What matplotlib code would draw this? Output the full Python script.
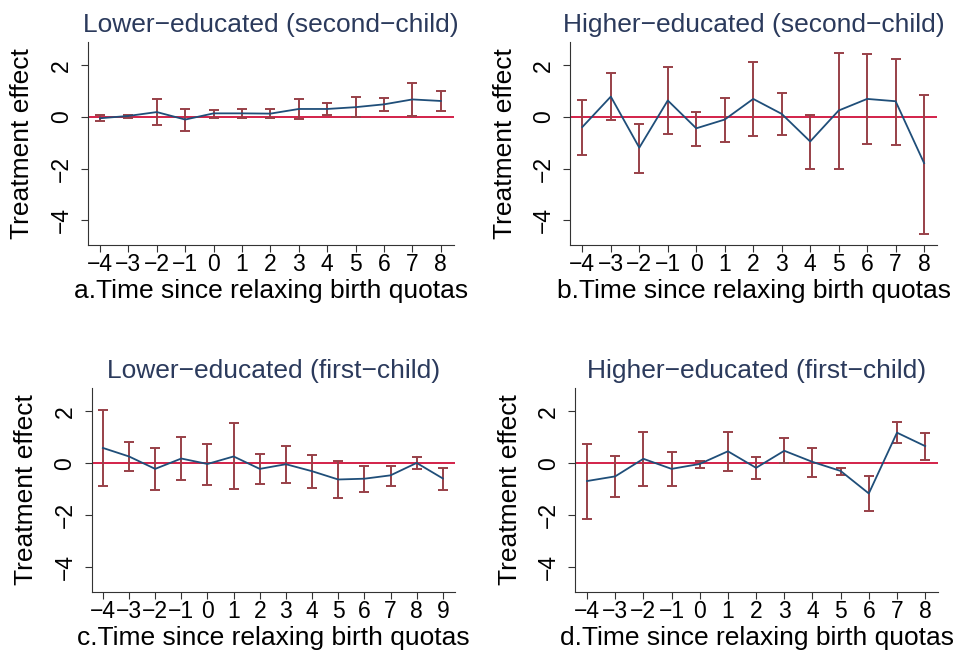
import numpy as np
import matplotlib.pyplot as plt

plt.rcParams['font.family'] = ['Liberation Sans', 'DejaVu Sans']

# panel a: lower-educated, second child
x_a = np.arange(-4, 9)
est_a = [-0.05, 0.04, 0.19, -0.10, 0.14, 0.14, 0.13, 0.31, 0.31, 0.38, 0.49, 0.68, 0.62]
hi_a = [0.06, 0.09, 0.68, 0.31, 0.26, 0.30, 0.30, 0.71, 0.55, 0.77, 0.75, 1.30, 1.01]
lo_a = [-0.14, -0.03, -0.30, -0.53, -0.03, -0.04, -0.05, -0.08, 0.08, -0.01, 0.23, 0.05, 0.22]

# panel b: higher-educated, second child
x_b = np.arange(-4, 9)
est_b = [-0.39, 0.79, -1.19, 0.64, -0.44, -0.10, 0.70, 0.12, -0.95, 0.25, 0.70, 0.61, -1.79]
hi_b = [0.64, 1.71, -0.27, 1.94, 0.21, 0.75, 2.14, 0.92, 0.09, 2.48, 2.43, 2.26, 0.87]
lo_b = [-1.47, -0.10, -2.18, -0.65, -1.12, -0.96, -0.74, -0.71, -2.03, -2.03, -1.03, -1.08, -4.52]

# panel c: lower-educated, first child
x_c = np.arange(-4, 10)
est_c = [0.59, 0.26, -0.22, 0.18, -0.03, 0.26, -0.22, -0.04, -0.31, -0.63, -0.60, -0.47, 0.01, -0.59]
hi_c = [2.06, 0.82, 0.57, 1.02, 0.76, 1.55, 0.34, 0.66, 0.30, 0.08, -0.10, -0.10, 0.23, -0.20]
lo_c = [-0.87, -0.30, -1.02, -0.65, -0.85, -1.00, -0.79, -0.76, -0.95, -1.34, -1.11, -0.87, -0.23, -1.03]

# panel d: higher-educated, first child
x_d = np.arange(-4, 9)
est_d = [-0.69, -0.51, 0.17, -0.22, -0.03, 0.46, -0.18, 0.48, 0.05, -0.30, -1.17, 1.18, 0.66]
hi_d = [0.76, 0.27, 1.21, 0.43, 0.10, 1.22, 0.22, 0.98, 0.60, -0.17, -0.49, 1.60, 1.17]
lo_d = [-2.14, -1.29, -0.87, -0.87, -0.18, -0.31, -0.61, -0.01, -0.52, -0.44, -1.85, 0.77, 0.14]

titles = ["Lower\u2212educated (second\u2212child)", "Higher\u2212educated (second\u2212child)",
          "Lower\u2212educated (first\u2212child)", "Higher\u2212educated (first\u2212child)"]
xlabels = ["a.Time since relaxing birth quotas", "b.Time since relaxing birth quotas",
           "c.Time since relaxing birth quotas", "d.Time since relaxing birth quotas"]

panels = [(x_a, est_a, lo_a, hi_a), (x_b, est_b, lo_b, hi_b),
          (x_c, est_c, lo_c, hi_c), (x_d, est_d, lo_d, hi_d)]

# axes boxes in figure fractions [left, bottom, width, height]
boxes = [[0.092, 0.628, 0.382, 0.308], [0.596, 0.628, 0.383, 0.308],
         [0.096, 0.102, 0.379, 0.309], [0.601, 0.102, 0.379, 0.309]]

fig = plt.figure(figsize=(9.57, 6.59), dpi=100)

for i, (x, est, lo, hi) in enumerate(panels):
    ax = fig.add_axes(boxes[i])
    est = np.array(est)
    lo = np.array(lo)
    hi = np.array(hi)
    ax.axhline(0, color='#d0103a', lw=1.3, zorder=1)
    ax.errorbar(x, est, yerr=[est - lo, hi - est], fmt='none', ecolor='#984048',
                elinewidth=1.4, capsize=3.5, capthick=1.4, zorder=2)
    ax.plot(x, est, color='#1f4e79', lw=1.3, zorder=3)
    ax.set_xlim(x[0] - 0.42, x[-1] + 0.45)
    ax.set_ylim(-4.97, 2.9)
    ax.set_xticks(x)
    ax.set_xticklabels([str(v).replace('-', '\u2212') for v in x])
    ax.set_yticks([-4, -2, 0, 2])
    ax.set_yticklabels(['\u22124', '\u22122', '0', '2'], rotation=90, va='center')
    ax.tick_params(labelsize=16.5, length=5, color='#333333')
    ax.tick_params(axis='x', pad=1)
    ax.tick_params(axis='y', pad=6)
    ax.spines['top'].set_visible(False)
    ax.spines['right'].set_visible(False)
    for s in ['left', 'bottom']:
        ax.spines[s].set_color('#333333')
    ax.set_title(titles[i], fontsize=19, color='#2b3a5c', pad=7)
    ax.set_xlabel(xlabels[i], fontsize=19, labelpad=2)
    ax.set_ylabel("Treatment effect", fontsize=19, labelpad=11)

plt.savefig("out.png", dpi=100)
